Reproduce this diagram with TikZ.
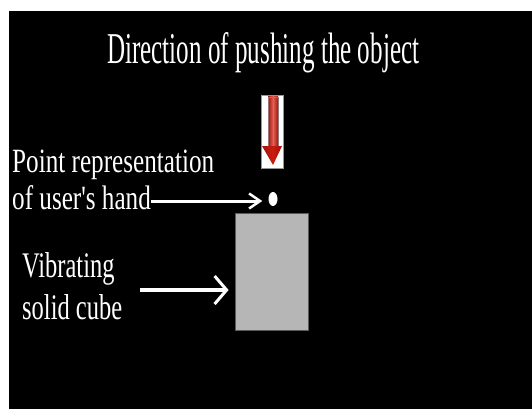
\documentclass[tikz,border=0pt]{standalone}
\usepackage{fontspec}
\setmainfont{Liberation Serif}
\usetikzlibrary{arrows.meta,shapes.geometric}
\definecolor{cubegray}{RGB}{182,182,182}
\definecolor{cubeedge}{RGB}{90,90,90}
\definecolor{boxedge}{RGB}{150,150,150}
\definecolor{shaftedge}{RGB}{150,120,120}
\definecolor{darkred}{RGB}{165,18,12}
\definecolor{midred}{RGB}{228,95,85}
\definecolor{headred}{RGB}{200,28,16}
\tikzset{
  lbl/.style={anchor=base west, inner sep=0pt, text=white},
  whitearrow/.style={draw=white, line width=3pt},
}
\newcommand{\ctext}[3]{\scalebox{#1}[1]{\fontsize{#2}{#2}\selectfont #3}}
\begin{document}
\begin{tikzpicture}[x=1pt,y=-1pt]
\useasboundingbox (0,0) rectangle (532,409);
\fill[white] (0,0) rectangle (532,409);
\fill[black] (9,11) rectangle (532,409);

% texts
\node[lbl] (title) at (107,64) {\ctext{0.57}{44}{Direction of pushing the object}};
\node[lbl] (point) at (12,172) {\ctext{0.74}{34}{Point representation}};
\node[lbl] (hand) at (12,209) {\ctext{0.74}{34}{of user\textquotesingle s hand}};
\node[lbl] (vib) at (22,277) {\ctext{0.68}{36}{Vibrating}};
\node[lbl] (solid) at (22,319) {\ctext{0.68}{36}{solid cube}};

% cube
\node[draw=cubeedge, line width=0.8pt, fill=cubegray,
      minimum width=73pt, minimum height=117pt, inner sep=0pt] (cube) at (271.5,271.5) {};

% point (hand)
\node[ellipse, fill=white, minimum width=9pt, minimum height=14pt, inner sep=0pt] (dot) at (273,199) {};

% push arrow box
\node[fill=white, draw=boxedge, line width=0.5pt,
      minimum width=22pt, minimum height=73pt, inner sep=0pt] (pushbox) at (272,131.5) {};
\shade[left color=darkred, right color=darkred, middle color=midred]
  (268,97) rectangle (278,147);
\draw[shaftedge, line width=0.4pt] (268,97) rectangle (278,146);
\shade[left color=darkred, right color=darkred, middle color=headred]
  (262,146) -- (282,146) -- (273,165) -- cycle;

% arrows
\draw[whitearrow, -{Straight Barb[length=11pt,width=15pt,line width=2.5pt]}, shorten >=6pt]
  ([yshift=8pt]hand.base east) -- ([yshift=-2pt]dot.west);
\coordinate (vstart) at (140,290);
\draw[whitearrow, line width=3.2pt, -{Straight Barb[length=12pt,width=28pt,line width=3pt]}, shorten >=6pt]
  (vstart) -- (vstart -| cube.west);
\end{tikzpicture}
\end{document}
